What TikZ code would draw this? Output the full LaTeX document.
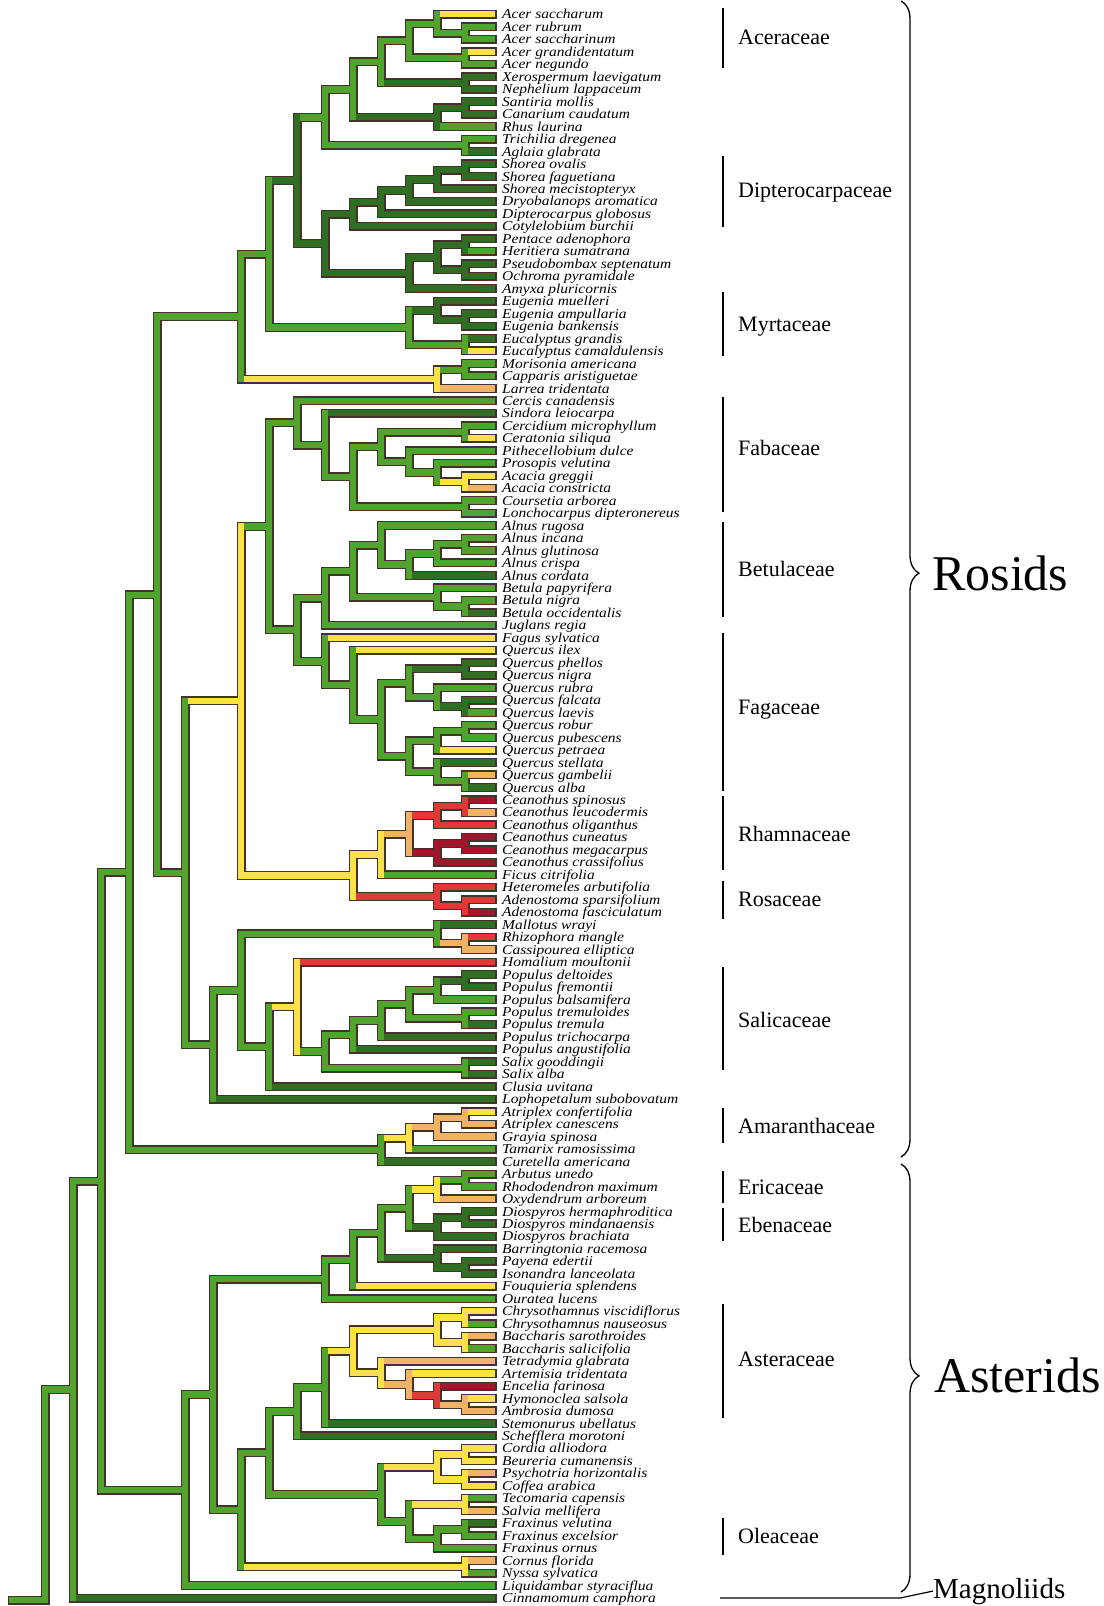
\documentclass[tikz,border=0pt]{standalone}
\usepackage{graphicx}
\usepackage{fontspec}
\setmainfont{Liberation Serif}
\usetikzlibrary{decorations.pathreplacing}
\definecolor{cG}{RGB}{80,164,46}
\definecolor{cD}{RGB}{48,110,36}
\definecolor{cY}{RGB}{250,226,70}
\definecolor{cO}{RGB}{240,178,100}
\definecolor{cR}{RGB}{224,58,56}
\definecolor{cC}{RGB}{162,22,44}
\definecolor{cK}{RGB}{66,52,40}
\tikzset{
  olband/.style={draw=cK, line width=9pt, line cap=rect},
  fillband/.style={line width=6.3pt, line cap=rect},
  lbl/.style={anchor=base west, inner sep=0pt, font=\fontsize{13.6}{13}\selectfont\itshape},
  fam/.style={anchor=base west, inner sep=0pt, font=\fontsize{22}{22}\selectfont},
  clade/.style={anchor=base west, inner sep=0pt, font=\fontsize{50}{50}\selectfont},
  magn/.style={anchor=base west, inner sep=0pt, font=\fontsize{29}{29}\selectfont},
  fambar/.style={draw=black, line width=1.2pt},
  bracestyle/.style={draw=black, line width=1.3pt, decorate, decoration={brace, amplitude=18pt, aspect=0.495}},
}
\newif\ifOL
\makeatletter
\newcommand\segm[5]{%
  \ifOL\draw[olband] (#2,#3) -- (#4,#5);\else\draw[fillband,draw=#1] (#2,#3) -- (#4,#5);\fi}
\newcommand\Lf[3]{%
  \expandafter\pgfmathsetmacro\csname tY@l#1\endcsname{14.3+(#1-1)*12.47}%
  \expandafter\def\csname tX@l#1\endcsname{492}%
  \expandafter\def\csname tC@l#1\endcsname{#2}%
  \edef\tmpy{\csname tY@l#1\endcsname}%
  \pgfmathsetmacro\tmpb{\tmpy+4.6}%
  \coordinate (l#1) at (492,\tmpy);
  \ifOL\else\node[lbl] (t#1) at (502,\tmpb) {\scalebox{1.14}[1]{#3}};\fi}
\newcommand\Br[2]{%
  \edef\bx{\csname tX@#1\endcsname}\edef\cx{\csname tX@#2\endcsname}%
  \edef\cy{\csname tY@#2\endcsname}\edef\cc{\csname tC@#2\endcsname}%
  \segm{\cc}{\bx}{\cy}{\cx}{\cy}}
\newcommand\Nd[5]{%
  \expandafter\pgfmathsetmacro\csname tY@#1\endcsname{(\csname tY@#3\endcsname+\csname tY@#4\endcsname)/2}%
  \expandafter\pgfmathsetmacro\csname tX@#1\endcsname{465-28*#2}%
  \expandafter\def\csname tC@#1\endcsname{#5}%
  \edef\nx{\csname tX@#1\endcsname}\edef\ny{\csname tY@#1\endcsname}%
  \coordinate (#1) at (\nx,\ny);
  \Br{#1}{#3}\Br{#1}{#4}%
  \edef\nx{\csname tX@#1\endcsname}\edef\ya{\csname tY@#3\endcsname}\edef\yb{\csname tY@#4\endcsname}%
  \segm{#5}{\nx}{\ya}{\nx}{\yb}}
\newcommand\Fam[5]{%
  \draw[fambar] (723,#2) -- (723,#3);
  \pgfmathsetmacro\tmpb{#5+7.5}%
  \node[fam] (#1) at (738,\tmpb) {#4};}
\expandafter\def\csname tY@stem\endcsname{1600}
\expandafter\def\csname tX@stem\endcsname{12}
\expandafter\def\csname tC@stem\endcsname{cG}
\makeatother
\newcommand\TreeAll{%
\Lf{1}{cY}{Acer saccharum}
\Lf{2}{cG}{Acer rubrum}
\Lf{3}{cG}{Acer saccharinum}
\Lf{4}{cY}{Acer grandidentatum}
\Lf{5}{cG}{Acer negundo}
\Lf{6}{cD}{Xerospermum laevigatum}
\Lf{7}{cD}{Nephelium lappaceum}
\Lf{8}{cD}{Santiria mollis}
\Lf{9}{cD}{Canarium caudatum}
\Lf{10}{cG}{Rhus laurina}
\Lf{11}{cG}{Trichilia dregenea}
\Lf{12}{cD}{Aglaia glabrata}
\Lf{13}{cD}{Shorea ovalis}
\Lf{14}{cD}{Shorea faguetiana}
\Lf{15}{cD}{Shorea mecistopteryx}
\Lf{16}{cD}{Dryobalanops aromatica}
\Lf{17}{cD}{Dipterocarpus globosus}
\Lf{18}{cD}{Cotylelobium burchii}
\Lf{19}{cD}{Pentace adenophora}
\Lf{20}{cG}{Heritiera sumatrana}
\Lf{21}{cD}{Pseudobombax septenatum}
\Lf{22}{cD}{Ochroma pyramidale}
\Lf{23}{cD}{Amyxa pluricornis}
\Lf{24}{cD}{Eugenia muelleri}
\Lf{25}{cD}{Eugenia ampullaria}
\Lf{26}{cD}{Eugenia bankensis}
\Lf{27}{cD}{Eucalyptus grandis}
\Lf{28}{cY}{Eucalyptus camaldulensis}
\Lf{29}{cG}{Morisonia americana}
\Lf{30}{cG}{Capparis aristiguetae}
\Lf{31}{cO}{Larrea tridentata}
\Lf{32}{cG}{Cercis canadensis}
\Lf{33}{cD}{Sindora leiocarpa}
\Lf{34}{cG}{Cercidium microphyllum}
\Lf{35}{cY}{Ceratonia siliqua}
\Lf{36}{cG}{Pithecellobium dulce}
\Lf{37}{cG}{Prosopis velutina}
\Lf{38}{cY}{Acacia greggii}
\Lf{39}{cO}{Acacia constricta}
\Lf{40}{cG}{Coursetia arborea}
\Lf{41}{cG}{Lonchocarpus dipteronereus}
\Lf{42}{cG}{Alnus rugosa}
\Lf{43}{cG}{Alnus incana}
\Lf{44}{cG}{Alnus glutinosa}
\Lf{45}{cG}{Alnus crispa}
\Lf{46}{cD}{Alnus cordata}
\Lf{47}{cG}{Betula papyrifera}
\Lf{48}{cG}{Betula nigra}
\Lf{49}{cD}{Betula occidentalis}
\Lf{50}{cG}{Juglans regia}
\Lf{51}{cY}{Fagus sylvatica}
\Lf{52}{cY}{Quercus ilex}
\Lf{53}{cD}{Quercus phellos}
\Lf{54}{cD}{Quercus nigra}
\Lf{55}{cG}{Quercus rubra}
\Lf{56}{cD}{Quercus falcata}
\Lf{57}{cG}{Quercus laevis}
\Lf{58}{cG}{Quercus robur}
\Lf{59}{cG}{Quercus pubescens}
\Lf{60}{cY}{Quercus petraea}
\Lf{61}{cD}{Quercus stellata}
\Lf{62}{cO}{Quercus gambelii}
\Lf{63}{cD}{Quercus alba}
\Lf{64}{cC}{Ceanothus spinosus}
\Lf{65}{cO}{Ceanothus leucodermis}
\Lf{66}{cR}{Ceanothus oliganthus}
\Lf{67}{cC}{Ceanothus cuneatus}
\Lf{68}{cC}{Ceanothus megacarpus}
\Lf{69}{cC}{Ceanothus crassifolius}
\Lf{70}{cG}{Ficus citrifolia}
\Lf{71}{cR}{Heteromeles arbutifolia}
\Lf{72}{cR}{Adenostoma sparsifolium}
\Lf{73}{cC}{Adenostoma fasciculatum}
\Lf{74}{cD}{Mallotus wrayi}
\Lf{75}{cR}{Rhizophora mangle}
\Lf{76}{cO}{Cassipourea elliptica}
\Lf{77}{cR}{Homalium moultonii}
\Lf{78}{cD}{Populus deltoides}
\Lf{79}{cD}{Populus fremontii}
\Lf{80}{cG}{Populus balsamifera}
\Lf{81}{cG}{Populus tremuloides}
\Lf{82}{cD}{Populus tremula}
\Lf{83}{cD}{Populus trichocarpa}
\Lf{84}{cD}{Populus angustifolia}
\Lf{85}{cD}{Salix gooddingii}
\Lf{86}{cD}{Salix alba}
\Lf{87}{cD}{Clusia uvitana}
\Lf{88}{cD}{Lophopetalum subobovatum}
\Lf{89}{cY}{Atriplex confertifolia}
\Lf{90}{cO}{Atriplex canescens}
\Lf{91}{cO}{Grayia spinosa}
\Lf{92}{cG}{Tamarix ramosissima}
\Lf{93}{cD}{Curetella americana}
\Lf{94}{cG}{Arbutus unedo}
\Lf{95}{cG}{Rhododendron maximum}
\Lf{96}{cO}{Oxydendrum arboreum}
\Lf{97}{cD}{Diospyros hermaphroditica}
\Lf{98}{cD}{Diospyros mindanaensis}
\Lf{99}{cD}{Diospyros brachiata}
\Lf{100}{cD}{Barringtonia racemosa}
\Lf{101}{cD}{Payena edertii}
\Lf{102}{cD}{Isonandra lanceolata}
\Lf{103}{cY}{Fouquieria splendens}
\Lf{104}{cG}{Ouratea lucens}
\Lf{105}{cY}{Chrysothamnus viscidiflorus}
\Lf{106}{cG}{Chrysothamnus nauseosus}
\Lf{107}{cO}{Baccharis sarothroides}
\Lf{108}{cG}{Baccharis salicifolia}
\Lf{109}{cO}{Tetradymia glabrata}
\Lf{110}{cY}{Artemisia tridentata}
\Lf{111}{cC}{Encelia farinosa}
\Lf{112}{cY}{Hymonoclea salsola}
\Lf{113}{cO}{Ambrosia dumosa}
\Lf{114}{cD}{Stemonurus ubellatus}
\Lf{115}{cD}{Schefflera morotoni}
\Lf{116}{cY}{Cordia alliodora}
\Lf{117}{cY}{Beureria cumanensis}
\Lf{118}{cO}{Psychotria horizontalis}
\Lf{119}{cY}{Coffea arabica}
\Lf{120}{cG}{Tecomaria capensis}
\Lf{121}{cO}{Salvia mellifera}
\Lf{122}{cD}{Fraxinus velutina}
\Lf{123}{cG}{Fraxinus excelsior}
\Lf{124}{cG}{Fraxinus ornus}
\Lf{125}{cO}{Cornus florida}
\Lf{126}{cG}{Nyssa sylvatica}
\Lf{127}{cG}{Liquidambar styraciflua}
\Lf{128}{cD}{Cinnamomum camphora}
\coordinate (stem) at (12,1600);
\Nd{n23}{0}{l2}{l3}{cG}
\Nd{acA}{1}{l1}{n23}{cG}
\Nd{n45}{0}{l4}{l5}{cG}
\Nd{acer}{2}{acA}{n45}{cG}
\Nd{sapd}{0}{l6}{l7}{cD}
\Nd{acsp}{3}{acer}{sapd}{cG}
\Nd{n89}{0}{l8}{l9}{cD}
\Nd{burs}{1}{n89}{l10}{cD}
\Nd{spbr}{4}{acsp}{burs}{cG}
\Nd{meli}{0}{l11}{l12}{cG}
\Nd{sapi}{5}{spbr}{meli}{cG}
\Nd{dtb}{0}{l13}{l14}{cD}
\Nd{dp1}{1}{dtb}{l15}{cD}
\Nd{dp2}{2}{dp1}{l16}{cD}
\Nd{dp3}{3}{dp2}{l17}{cD}
\Nd{dp4}{4}{dp3}{l18}{cD}
\Nd{mta}{0}{l19}{l20}{cD}
\Nd{mtb}{0}{l21}{l22}{cD}
\Nd{mv1}{1}{mta}{mtb}{cD}
\Nd{mv2}{2}{mv1}{l23}{cD}
\Nd{dpmv}{5}{dp4}{mv2}{cD}
\Nd{ros6}{6}{sapi}{dpmv}{cD}
\Nd{eab}{0}{l25}{l26}{cD}
\Nd{eug}{1}{l24}{eab}{cD}
\Nd{euc}{0}{l27}{l28}{cG}
\Nd{myr}{2}{eug}{euc}{cG}
\Nd{ros7}{7}{ros6}{myr}{cG}
\Nd{capp}{0}{l29}{l30}{cG}
\Nd{cpl}{1}{capp}{l31}{cY}
\Nd{ros8}{8}{ros7}{cpl}{cG}
\Nd{fcc}{0}{l34}{l35}{cG}
\Nd{fac}{0}{l38}{l39}{cY}
\Nd{fb1}{1}{l37}{fac}{cG}
\Nd{fb2}{2}{l36}{fb1}{cG}
\Nd{fb3}{3}{fcc}{fb2}{cG}
\Nd{fcl}{0}{l40}{l41}{cG}
\Nd{fb4}{4}{fb3}{fcl}{cG}
\Nd{fb5}{5}{l33}{fb4}{cG}
\Nd{fab}{6}{l32}{fb5}{cG}
\Nd{aab}{0}{l43}{l44}{cG}
\Nd{al1}{1}{aab}{l45}{cG}
\Nd{al2}{2}{al1}{l46}{cG}
\Nd{aln}{3}{l42}{al2}{cG}
\Nd{bab}{0}{l48}{l49}{cG}
\Nd{bet}{1}{l47}{bab}{cG}
\Nd{betu}{4}{aln}{bet}{cG}
\Nd{bj}{5}{betu}{l50}{cG}
\Nd{qpn}{0}{l53}{l54}{cD}
\Nd{qfl}{0}{l56}{l57}{cD}
\Nd{qa1}{1}{l55}{qfl}{cG}
\Nd{qa2}{2}{qpn}{qa1}{cG}
\Nd{qrp}{0}{l58}{l59}{cG}
\Nd{qb1}{1}{qrp}{l60}{cG}
\Nd{qga}{0}{l62}{l63}{cG}
\Nd{qc1}{1}{l61}{qga}{cG}
\Nd{qb2}{2}{qb1}{qc1}{cG}
\Nd{qq3}{3}{qa2}{qb2}{cG}
\Nd{qq4}{4}{l52}{qq3}{cG}
\Nd{fag}{5}{l51}{qq4}{cG}
\Nd{fgl}{6}{bj}{fag}{cG}
\Nd{fbfg}{7}{fab}{fgl}{cG}
\Nd{csl}{0}{l64}{l65}{cR}
\Nd{rh1a}{1}{csl}{l66}{cR}
\Nd{ccm}{0}{l67}{l68}{cC}
\Nd{rh1b}{1}{ccm}{l69}{cC}
\Nd{rh2}{2}{rh1a}{rh1b}{cO}
\Nd{rh3}{3}{rh2}{l70}{cY}
\Nd{ads}{0}{l72}{l73}{cR}
\Nd{rsc}{1}{l71}{ads}{cR}
\Nd{rsl}{4}{rh3}{rsc}{cY}
\Nd{ylw}{8}{fbfg}{rsl}{cY}
\Nd{rca}{0}{l75}{l76}{cO}
\Nd{mal1}{1}{l74}{rca}{cG}
\Nd{pdf}{0}{l78}{l79}{cD}
\Nd{sl1}{1}{pdf}{l80}{cG}
\Nd{ptt}{0}{l81}{l82}{cG}
\Nd{sl2}{2}{sl1}{ptt}{cG}
\Nd{sl3}{3}{sl2}{l83}{cG}
\Nd{sl4}{4}{sl3}{l84}{cG}
\Nd{sga}{0}{l85}{l86}{cG}
\Nd{sl5}{5}{sl4}{sga}{cG}
\Nd{sl6}{6}{l77}{sl5}{cY}
\Nd{ml7}{7}{sl6}{l87}{cG}
\Nd{ml8}{8}{mal1}{ml7}{cG}
\Nd{ml9}{9}{ml8}{l88}{cG}
\Nd{ros10}{10}{ylw}{ml9}{cG}
\Nd{ros11}{11}{ros8}{ros10}{cG}
\Nd{atc}{0}{l89}{l90}{cO}
\Nd{cr1}{1}{atc}{l91}{cO}
\Nd{cr2}{2}{cr1}{l92}{cY}
\Nd{cr3}{3}{cr2}{l93}{cG}
\Nd{n12}{12}{ros11}{cr3}{cG}
\Nd{ear}{0}{l94}{l95}{cG}
\Nd{eri}{1}{ear}{l96}{cY}
\Nd{dhm}{0}{l97}{l98}{cD}
\Nd{ebe}{1}{dhm}{l99}{cD}
\Nd{er2}{2}{eri}{ebe}{cG}
\Nd{spi}{0}{l101}{l102}{cD}
\Nd{sapt}{1}{l100}{spi}{cD}
\Nd{er3}{3}{er2}{sapt}{cG}
\Nd{er4}{4}{er3}{l103}{cG}
\Nd{er5}{5}{er4}{l104}{cG}
\Nd{chv}{0}{l105}{l106}{cY}
\Nd{bcs}{0}{l107}{l108}{cY}
\Nd{as1}{1}{chv}{bcs}{cY}
\Nd{hya}{0}{l112}{l113}{cO}
\Nd{asa}{1}{l111}{hya}{cR}
\Nd{asb}{2}{l110}{asa}{cO}
\Nd{asc}{3}{l109}{asb}{cY}
\Nd{as4}{4}{as1}{asc}{cY}
\Nd{as5}{5}{as4}{l114}{cG}
\Nd{as6}{6}{as5}{l115}{cG}
\Nd{cob}{0}{l116}{l117}{cY}
\Nd{pco}{0}{l118}{l119}{cY}
\Nd{lm1}{1}{cob}{pco}{cY}
\Nd{tsa}{0}{l120}{l121}{cY}
\Nd{fve}{0}{l122}{l123}{cG}
\Nd{ole}{1}{fve}{l124}{cG}
\Nd{lm2}{2}{tsa}{ole}{cG}
\Nd{lm3}{3}{lm1}{lm2}{cG}
\Nd{as7}{7}{as6}{lm3}{cG}
\Nd{crn}{0}{l125}{l126}{cY}
\Nd{as8}{8}{as7}{crn}{cG}
\Nd{as9}{9}{er5}{as8}{cG}
\Nd{as10}{10}{as9}{l127}{cG}
\Nd{n13}{13}{n12}{as10}{cG}
\Nd{n14}{14}{n13}{l128}{cG}
\Nd{root}{15}{n14}{stem}{cG}
}
\begin{document}
\begin{tikzpicture}[x=1pt,y=-1pt]
\useasboundingbox (0,0) rectangle (1103,1606);
\fill[white] (0,0) rectangle (1103,1606);
\OLtrue\TreeAll
\OLfalse\TreeAll
% family labels
\Fam{fAce}{8}{68}{Aceraceae}{37}
\Fam{fDip}{156}{227}{Dipterocarpaceae}{189.5}
\Fam{fMyr}{292}{356}{Myrtaceae}{323.6}
\Fam{fFab}{397}{512}{Fabaceae}{447.5}
\Fam{fBet}{522}{617}{Betulaceae}{569}
\Fam{fFag}{633}{791}{Fagaceae}{706.6}
\Fam{fRha}{796}{870}{Rhamnaceae}{833.6}
\Fam{fRos}{881}{919}{Rosaceae}{899}
\Fam{fSal}{967}{1070}{Salicaceae}{1020}
\Fam{fAma}{1108}{1143}{Amaranthaceae}{1125.5}
\Fam{fEri}{1171}{1203}{Ericaceae}{1187}
\Fam{fEbe}{1208}{1241}{Ebenaceae}{1225}
\Fam{fAst}{1304}{1418}{Asteraceae}{1359}
\Fam{fOle}{1518}{1555}{Oleaceae}{1536}
% clades
\draw[bracestyle] (901,1) -- (901,1157);
\draw[bracestyle] (901,1164) -- (901,1592);
\node[clade] (rosids) at (932,590) {Rosids};
\node[clade] (asterids) at (934,1392) {Asterids};
\node[magn] (magn) at (933,1598) {Magnoliids};
\coordinate (mgA) at (720,1598);
\coordinate (mgB) at (900,1598);
\draw[line width=1.2pt] (mgA) -- (mgB) -- (magn.west);
\end{tikzpicture}
\end{document}
